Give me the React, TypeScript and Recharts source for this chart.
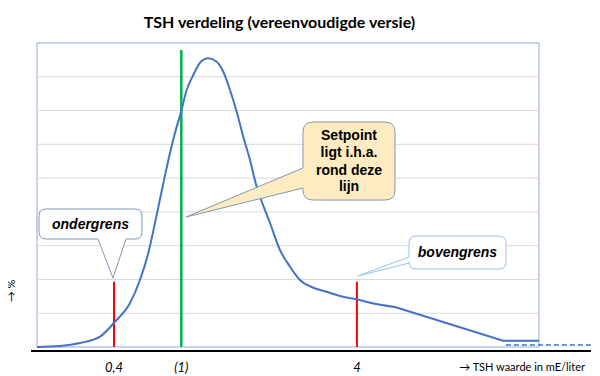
import React from 'react';
import {
  ComposedChart,
  Line,
  XAxis,
  YAxis,
  ReferenceLine,
  ReferenceArea,
  ReferenceDot,
  Customized,
} from 'recharts';

// ---- data ----
const chartTitle = 'TSH verdeling (vereenvoudigde versie)';
const xAxisTitle = '→ TSH waarde in mE/liter';
const yAxisTitle = '→ %';

const tickPositions = [14.82, 26.84, 58.2];
const tickLabels = ['0,4', '(1)', '4'];

const curveX = [1.07, 5.18, 8.75, 12.32, 15.0, 17.68, 19.46, 20.95, 22.14, 23.34, 23.93, 24.82, 25.71, 26.79, 27.8, 28.98, 30.18, 31.66, 33.16, 34.34, 35.54, 36.73, 37.91, 39.11, 40.3, 40.89, 42.68, 44.46, 46.25, 48.04, 50.41, 52.8, 55.18, 58.16, 60.54, 65.0];
const curveY = [0, 0.3, 1.18, 3.05, 7.49, 13.03, 19.83, 27.83, 36.71, 46.2, 50.8, 57.43, 63.35, 69.66, 76.08, 80.52, 84.16, 85.47, 84.46, 81.5, 76.08, 69.66, 62.26, 55.36, 47.45, 44.49, 36.71, 28.72, 23.77, 19.83, 17.55, 16.37, 15.1, 14.12, 13.11, 11.84];

const tailX = [65.0, 84.3, 90.71];
const tailY = [11.84, 1.87, 1.87];

const dashX = [84.8, 100];
const dashY = [0.59, 0.59];

const gridValues = [10, 20, 30, 40, 50, 60, 70, 80];
const boxX = [1.07, 90.71];
const boxY = [0, 90];

const lowerLimit = { x: 14.82, top: 19.33 };
const setpointLine = { x: 26.84, top: 87.9 };
const upperLimit = { x: 58.2, top: 19.33 };

const calloutLower = { x: 14.64, y: 20.43, text: 'ondergrens' };
const calloutUpper = { x: 58.39, y: 21.02, text: 'bovengrens' };
const calloutSetpoint = { x: 27.68, y: 38.48, lines: ['Setpoint', 'ligt i.h.a.', 'rond deze', 'lijn'] };

const curveData = curveX.map((x, i) => ({ x, y: curveY[i] }));
const tailData = tailX.map((x, i) => ({ x, y: tailY[i] }));
const dashData = dashX.map((x, i) => ({ x, y: dashY[i] }));

const BLUE = '#4472C4';
const ARIAL = '"Liberation Sans", Arial, sans-serif';
const CAL = 'Lato, "Open Sans", sans-serif';

function bottomPointerPath(l: number, t: number, r: number, b: number, rad: number, b1: number, b2: number) {
  return `M${l + rad},${t} H${r - rad} Q${r},${t} ${r},${t + rad} V${b - rad} Q${r},${b} ${r - rad},${b} H${b2} L0,0 L${b1},${b} H${l + rad} Q${l},${b} ${l},${b - rad} V${t + rad} Q${l},${t} ${l + rad},${t} Z`;
}

function leftPointerPath(l: number, t: number, r: number, b: number, rad: number, b1: number, b2: number) {
  return `M${l + rad},${t} H${r - rad} Q${r},${t} ${r},${t + rad} V${b - rad} Q${r},${b} ${r - rad},${b} H${l + rad} Q${l},${b} ${l},${b - rad} V${b2} L0,0 L${l},${b1} V${t + rad} Q${l},${t} ${l + rad},${t} Z`;
}

const LowerShape = (p: any) => (
  <g transform={`translate(${p.cx},${p.cy})`}>
    <path d={bottomPointerPath(-74, -69, 29, -39, 7, -15, 13)} fill="#ffffff" stroke="#8497B0" strokeWidth={1} />
    <text x={-22.5} y={-49} textAnchor="middle" fontFamily={ARIAL} fontSize={14} fontWeight="bold" fontStyle="italic" fill="#000">
      {calloutLower.text}
    </text>
  </g>
);

const UpperShape = (p: any) => (
  <g transform={`translate(${p.cx},${p.cy})`}>
    <path d={leftPointerPath(51, -40, 148, -7, 7, -19, -13)} fill="#ffffff" stroke="#9DC3E6" strokeWidth={1} />
    <text x={99.5} y={-19} textAnchor="middle" fontFamily={ARIAL} fontSize={14} fontWeight="bold" fontStyle="italic" fill="#000">
      {calloutUpper.text}
    </text>
  </g>
);

const SetpointShape = (p: any) => {
  const baselines = [-77, -60, -42, -26];
  return (
    <g transform={`translate(${p.cx},${p.cy})`}>
      <path d={leftPointerPath(117, -95, 209, -17, 10, -49, -29)} fill="#FDEBC2" stroke="#8497B0" strokeWidth={1} />
      {calloutSetpoint.lines.map((ln, i) => (
        <text key={i} x={163} y={baselines[i]} textAnchor="middle" fontFamily={ARIAL} fontSize={14} fontWeight="bold" fill="#000">
          {ln}
        </text>
      ))}
    </g>
  );
};

const StaticTexts = () => (
  <g>
    <text x={279.5} y={28} textAnchor="middle" fontFamily={CAL} fontSize={16} fontWeight="bold" fill="#000">
      {chartTitle}
    </text>
    <text x={585} y={371} textAnchor="end" fontFamily={CAL} fontSize={11} fill="#000">
      {xAxisTitle}
    </text>
    <text x={15} y={291} textAnchor="middle" transform="rotate(-90 15 291)" fontFamily={CAL} fontSize={11} fill="#000">
      {yAxisTitle}
    </text>
  </g>
);

const tickFmt = (v: number) => {
  const i = tickPositions.indexOf(v);
  return i >= 0 ? tickLabels[i] : '';
};

export default function App() {
  return (
    <div style={{ marginLeft: -8, marginTop: -8, width: 600, height: 376 }}>
      <ComposedChart width={600} height={376} margin={{ top: 14, right: 9, bottom: 0, left: 31 }}>
        <XAxis
          dataKey="x"
          type="number"
          domain={[0, 100]}
          ticks={tickPositions}
          tickFormatter={tickFmt}
          tickLine={false}
          tickSize={0}
          tickMargin={12}
          height={25}
          axisLine={{ stroke: '#000', strokeWidth: 2 }}
          tick={{ fontSize: 13, fontStyle: 'italic', fill: '#000', fontFamily: CAL }}
          interval={0}
          allowDataOverflow
        />
        <YAxis
          type="number"
          domain={[-1.18, 98.58]}
          width={0}
          tick={false}
          tickLine={false}
          axisLine={{ stroke: '#000', strokeWidth: 2 }}
          allowDataOverflow
        />
        {gridValues.map((g) => (
          <ReferenceLine
            key={g}
            segment={[{ x: boxX[0], y: g }, { x: boxX[1], y: g }]}
            stroke="#D9D9D9"
            strokeWidth={1}
            ifOverflow="visible"
          />
        ))}
        <ReferenceArea x1={boxX[0]} x2={boxX[1]} y1={boxY[0]} y2={boxY[1]} fill="none" stroke="#8FAADC" strokeWidth={1} ifOverflow="visible" />
        <ReferenceLine segment={[{ x: lowerLimit.x, y: 0 }, { x: lowerLimit.x, y: lowerLimit.top }]} stroke="#FF0000" strokeWidth={2} ifOverflow="visible" />
        <ReferenceLine segment={[{ x: upperLimit.x, y: 0 }, { x: upperLimit.x, y: upperLimit.top }]} stroke="#FF0000" strokeWidth={2} ifOverflow="visible" />
        <ReferenceLine segment={[{ x: setpointLine.x, y: 0 }, { x: setpointLine.x, y: setpointLine.top }]} stroke="#00B050" strokeWidth={2.5} ifOverflow="visible" />
        <ReferenceDot x={calloutLower.x} y={calloutLower.y} r={0} shape={LowerShape} ifOverflow="visible" />
        <ReferenceDot x={calloutUpper.x} y={calloutUpper.y} r={0} shape={UpperShape} ifOverflow="visible" />
        <ReferenceDot x={calloutSetpoint.x} y={calloutSetpoint.y} r={0} shape={SetpointShape} ifOverflow="visible" />
        <Line data={curveData} dataKey="y" type="monotone" stroke={BLUE} strokeWidth={2} dot={false} isAnimationActive={false} />
        <Line data={tailData} dataKey="y" type="linear" stroke={BLUE} strokeWidth={2} dot={false} isAnimationActive={false} />
        <Line data={dashData} dataKey="y" type="linear" stroke={BLUE} strokeWidth={1.5} strokeDasharray="5 3" dot={false} isAnimationActive={false} />
        <Customized component={StaticTexts} />
      </ComposedChart>
    </div>
  );
}
